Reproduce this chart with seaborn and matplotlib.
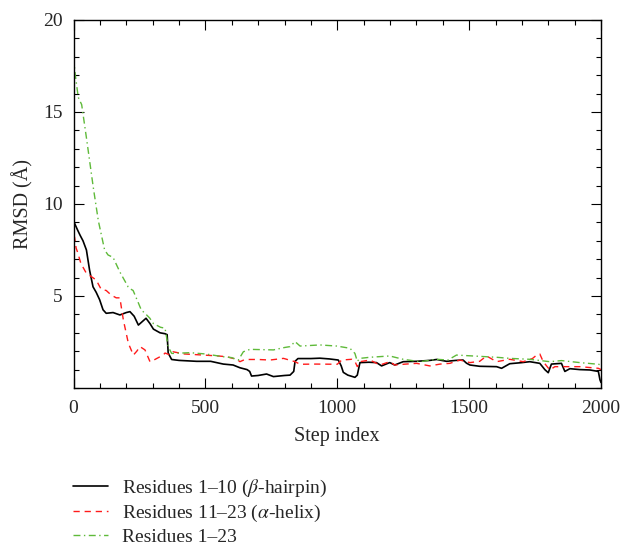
import numpy as np
import pandas as pd
import matplotlib
matplotlib.use("Agg")
import matplotlib.pyplot as plt
import seaborn as sns
from matplotlib.ticker import MultipleLocator

# ---- data ----
hairpin_steps = [0, 4, 15, 25, 36, 49, 61, 74, 86, 99, 112, 124, 150, 176, 200, 214, 230, 246, 260, 275,
                 290, 303, 328, 347, 355, 359, 372, 400, 467, 520, 568, 605, 631, 658, 668, 675, 700, 732, 758, 800,
                 821, 835, 840, 851, 900, 934, 970, 1004, 1015, 1023, 1040, 1067, 1076, 1086, 1120, 1149, 1168, 1185, 1199, 1218,
                 1250, 1300, 1351, 1377, 1414, 1450, 1477, 1490, 1503, 1540, 1604, 1623, 1654, 1700, 1730, 1768, 1787, 1800, 1812, 1850,
                 1863, 1882, 1920, 1958, 1990, 1996, 2000]
hairpin_rmsd = [9.0, 8.95, 8.6, 8.3, 8.0, 7.5, 6.4, 5.5, 5.2, 4.8, 4.25, 4.06, 4.1, 3.97, 4.1, 4.15, 3.9, 3.42, 3.6, 3.79,
                3.5, 3.2, 3.0, 2.95, 2.9, 1.9, 1.55, 1.5, 1.45, 1.45, 1.3, 1.25, 1.1, 1.0, 0.9, 0.65, 0.68, 0.76, 0.62, 0.68,
                0.7, 0.9, 1.45, 1.6, 1.6, 1.62, 1.58, 1.52, 1.2, 0.85, 0.7, 0.58, 0.7, 1.38, 1.4, 1.38, 1.2, 1.3, 1.38, 1.25,
                1.43, 1.45, 1.5, 1.55, 1.45, 1.5, 1.52, 1.35, 1.25, 1.18, 1.16, 1.07, 1.32, 1.38, 1.43, 1.34, 1.0, 0.83, 1.3, 1.34,
                0.9, 1.05, 1.0, 0.98, 0.9, 0.45, 0.3]

helix_steps = [0, 4, 10, 15, 28, 49, 68, 86, 105, 124, 143, 162, 176, 181, 189, 208, 227, 240, 252, 271,
               290, 296, 315, 340, 347, 366, 377, 420, 492, 540, 581, 620, 631, 650, 700, 745, 796, 840, 859, 920,
               1000, 1017, 1055, 1067, 1076, 1086, 1124, 1162, 1199, 1218, 1260, 1301, 1351, 1390, 1427, 1465, 1503, 1540, 1566, 1604,
               1654, 1705, 1740, 1756, 1768, 1781, 1806, 1825, 1870, 1920, 1990, 2000]
helix_rmsd = [8.3, 8.2, 7.6, 7.4, 6.77, 6.23, 6.05, 5.87, 5.36, 5.3, 5.05, 4.9, 4.9, 4.42, 3.7, 2.43, 1.79, 2.0, 2.25, 2.07,
              1.43, 1.45, 1.6, 1.79, 1.9, 1.8, 1.97, 1.85, 1.79, 1.75, 1.7, 1.55, 1.43, 1.55, 1.55, 1.52, 1.61, 1.43, 1.29, 1.3,
              1.29, 1.52, 1.56, 1.45, 1.16, 1.43, 1.52, 1.25, 1.43, 1.25, 1.3, 1.34, 1.2, 1.3, 1.34, 1.52, 1.38, 1.45, 1.74, 1.43,
              1.56, 1.43, 1.6, 1.79, 1.85, 1.43, 0.98, 1.16, 1.16, 1.16, 1.07, 1.0]

all_steps = [0, 6, 18, 31, 50, 75, 94, 118, 131, 150, 176, 207, 220, 226, 244, 257, 271, 289, 303, 330,
             347, 359, 372, 378, 442, 500, 568, 600, 625, 644, 669, 758, 800, 821, 840, 859, 934, 998, 1048, 1067,
             1076, 1086, 1124, 1199, 1250, 1314, 1377, 1420, 1452, 1515, 1604, 1654, 1730, 1806, 1850, 1920, 1990, 2000]
all_rmsd = [18.0, 17.1, 15.8, 15.4, 13.5, 10.9, 9.1, 7.5, 7.23, 7.1, 6.3, 5.5, 5.35, 5.3, 4.69, 4.24, 4.06, 3.8, 3.5, 3.3,
            3.25, 2.25, 1.88, 1.88, 1.92, 1.85, 1.7, 1.65, 1.52, 1.97, 2.1, 2.07, 2.2, 2.25, 2.52, 2.28, 2.34, 2.28, 2.16, 1.88,
            1.45, 1.61, 1.67, 1.74, 1.56, 1.43, 1.56, 1.52, 1.79, 1.74, 1.67, 1.61, 1.56, 1.43, 1.49, 1.38, 1.29, 1.25]

labels = ["Residues 1\u201310 ($\\beta$-hairpin)",
          "Residues 11\u201323 ($\\alpha$-helix)",
          "Residues 1\u201323"]
colors = ["#000000", "#ff1a1a", "#5fba3a"]
styles = ["-", (0, (4.5, 3.5)), (0, (5, 2.5, 1, 2.5))]

x_ticks = [0, 500, 1000, 1500, 2000]
y_ticks = [5, 10, 15, 20]

# ---- style ----
sns.set_style("ticks")
plt.rcParams["font.family"] = ["Liberation Serif", "DejaVu Serif"]
plt.rcParams["mathtext.fontset"] = "stix"

fig = plt.figure(figsize=(6.22, 5.48), dpi=100)
ax = fig.add_axes([73.5 / 622, 1 - 388 / 548, (601 - 73.5) / 622, (388 - 20) / 548])

series = [(hairpin_steps, hairpin_rmsd), (helix_steps, helix_rmsd), (all_steps, all_rmsd)]
widths = [1.2, 1.0, 1.0]
for (xs, ys), lab, col, ls, lw in zip(series, labels, colors, styles, widths):
    assert len(xs) == len(ys)
    df = pd.DataFrame({"step": xs, "rmsd": ys})
    sns.lineplot(data=df, x="step", y="rmsd", ax=ax, color=col, lw=lw, linestyle=ls, label=lab)

ax.set_xlim(0, 2000)
ax.set_ylim(0, 20)
ax.set_xticks(x_ticks)
ax.set_yticks(y_ticks)
ax.xaxis.set_minor_locator(MultipleLocator(100))
ax.yaxis.set_minor_locator(MultipleLocator(1))
ax.tick_params(which="both", direction="in", top=True, right=True, labelsize=14, width=0.8, color="black")
ax.tick_params(which="major", length=7)
ax.tick_params(axis="x", which="major", pad=8.5)
ax.tick_params(axis="y", which="major", pad=8)
ax.tick_params(which="minor", length=3.8)
for s in ax.spines.values():
    s.set_linewidth(1.0)
    s.set_color("black")

ax.set_xlabel("Step index", fontsize=14.5, labelpad=7)
ax.set_ylabel("RMSD (\u00c5)", fontsize=14.5, labelpad=7)

h, l = ax.get_legend_handles_labels()
ax.get_legend().remove()
fig.legend(h, l, loc="upper left", bbox_to_anchor=(73 / 622, 1 - 478 / 548), frameon=False,
           fontsize=14, handlelength=1.8, handletextpad=0.7, labelspacing=0.2, borderpad=0, borderaxespad=0)

fig.savefig("out.png", dpi=100)
